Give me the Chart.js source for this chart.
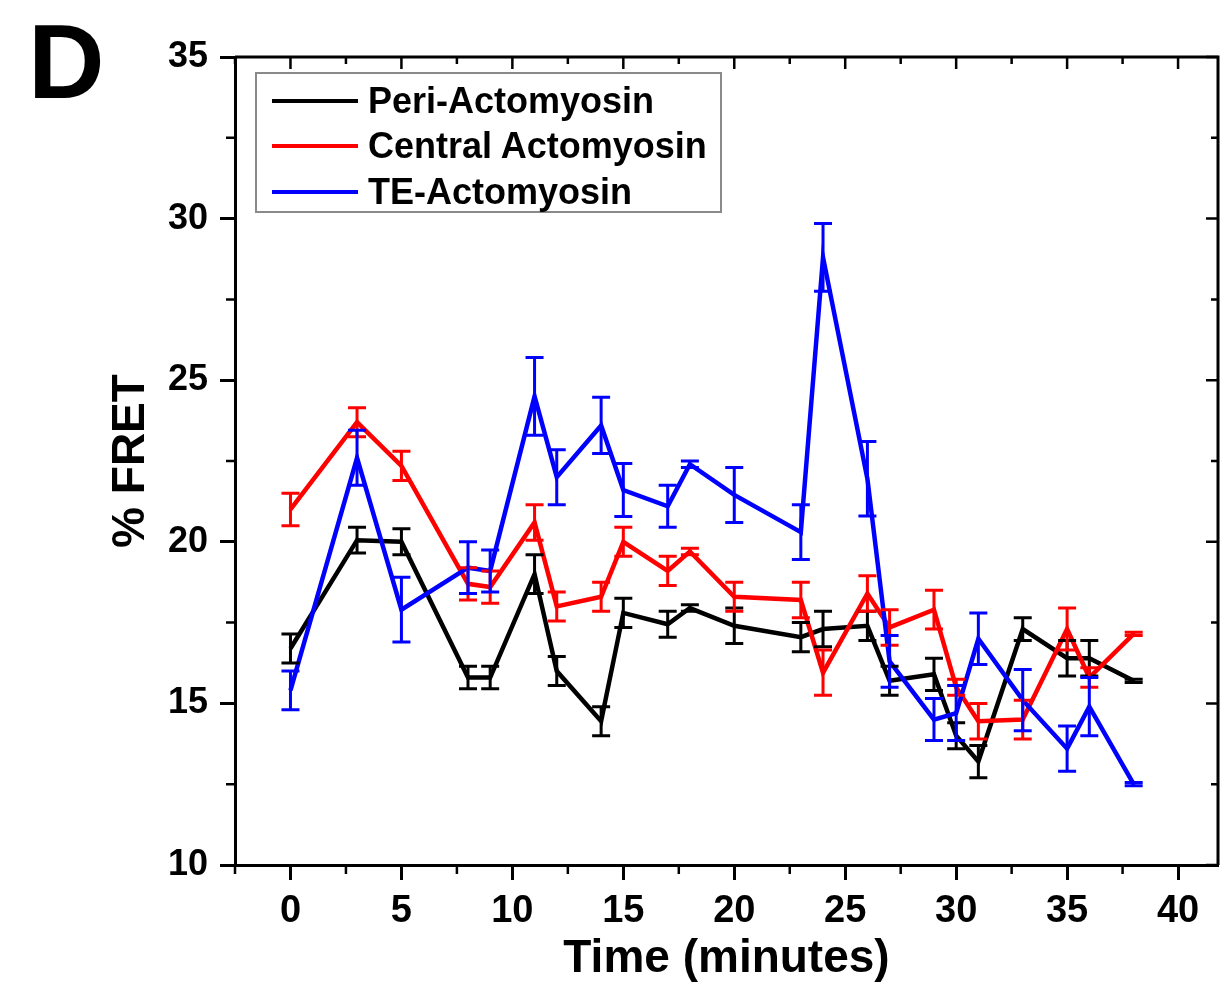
<!DOCTYPE html>
<html>
<head>
<meta charset="utf-8">
<script src="https://cdn.jsdelivr.net/npm/chart.js@4.4.1/dist/chart.umd.min.js"></script>
<style>
  body { margin: 0; background: #fff; }
  #wrap { position: relative; width: 1222px; height: 987px; }
  #panel { position: absolute; left: 28px; top: 8px; font: bold 106px 'Liberation Sans', Arial, sans-serif; line-height: 1; }
  #legend { position: absolute; left: 255px; top: 72px; width: 467px; height: 141px; box-sizing: border-box;
            border: 2px solid #8a8a8a; padding-top: 4px; font: bold 36px 'Liberation Sans', Arial, sans-serif; }
  .item { display: flex; align-items: center; height: 45.5px; }
  .swatch { width: 86px; height: 4px; margin-left: 15px; margin-right: 10px; }
</style>
</head>
<body>
<div id="wrap">
  <canvas id="chart" width="1222" height="987"></canvas>
  <div id="panel">D</div>
  <div id="legend"></div>
</div>
<script>
// time points (minutes)
const times = [0, 3, 5, 8, 9, 11, 12, 14, 15, 17, 18, 20, 23, 24, 26, 27, 29, 30, 31, 33, 35, 36, 38];

const periLabel = 'Peri-Actomyosin';
const peri    = [16.7, 20.05, 20.0, 15.8, 15.8, 19.0, 16.0, 14.45, 17.8, 17.45, 17.95, 17.4, 17.05, 17.3, 17.4, 15.7, 15.9, 14.0, 13.2, 17.3, 16.4, 16.4, 15.7];
const periErr = [0.45, 0.4, 0.4, 0.35, 0.35, 0.6, 0.45, 0.45, 0.45, 0.4, 0.1, 0.55, 0.45, 0.55, 0.45, 0.45, 0.5, 0.4, 0.5, 0.35, 0.55, 0.55, 0.05];

const centralLabel = 'Central Actomyosin';
const central    = [21.0, 23.7, 22.35, 18.7, 18.6, 20.6, 18.0, 18.3, 20.0, 19.1, 19.7, 18.3, 18.2, 15.95, 18.4, 17.35, 17.9, 15.5, 14.45, 14.5, 17.3, 15.8, 17.15];
const centralErr = [0.5, 0.45, 0.45, 0.5, 0.5, 0.55, 0.45, 0.45, 0.45, 0.45, 0.1, 0.45, 0.55, 0.7, 0.55, 0.55, 0.6, 0.25, 0.55, 0.6, 0.65, 0.3, 0.05];

const teLabel = 'TE-Actomyosin';
const te    = [15.4, 22.6, 17.9, 19.2, 19.1, 24.5, 22.0, 23.6, 21.6, 21.1, 22.4, 21.45, 20.3, 28.8, 21.95, 16.3, 14.5, 14.7, 17.0, 15.1, 13.6, 14.9, 12.5];
const teErr = [0.6, 0.85, 1.0, 0.8, 0.65, 1.2, 0.85, 0.87, 0.82, 0.65, 0.1, 0.85, 0.85, 1.05, 1.15, 0.8, 0.65, 0.85, 0.8, 0.95, 0.7, 0.9, 0.05];

const xTicks = [0, 5, 10, 15, 20, 25, 30, 35, 40];
const xMinor = [-2.5, 2.5, 7.5, 12.5, 17.5, 22.5, 27.5, 32.5, 37.5];
const yTicks = [10, 15, 20, 25, 30, 35];
const yMinor = [12.5, 17.5, 22.5, 27.5, 32.5];

const FONT = "'Liberation Sans', Arial, sans-serif";

const pts = ys => times.map((t, i) => ({ x: t, y: ys[i] }));

const datasets = [
  { label: periLabel, data: pts(peri), errors: periErr, borderColor: '#000000', order: 3 },
  { label: centralLabel, data: pts(central), errors: centralErr, borderColor: '#ff0000', order: 2 },
  { label: teLabel, data: pts(te), errors: teErr, borderColor: '#0000ff', order: 1 }
].map(d => Object.assign(d, { borderWidth: 4.5, pointRadius: 0, tension: 0, fill: false }));

// vertical error bars with caps
const errorBars = {
  id: 'errorBars',
  afterDatasetsDraw(chart) {
    const { ctx, scales: { x, y } } = chart;
    chart.data.datasets.slice().sort((a, b) => b.order - a.order).forEach(ds => {
      ctx.save();
      ctx.strokeStyle = ds.borderColor;
      ctx.lineWidth = 3;
      ds.data.forEach((p, j) => {
        const px = x.getPixelForValue(p.x);
        const top = y.getPixelForValue(p.y + ds.errors[j]);
        const bot = y.getPixelForValue(p.y - ds.errors[j]);
        ctx.beginPath();
        ctx.moveTo(px, top); ctx.lineTo(px, bot);
        ctx.moveTo(px - 9, top); ctx.lineTo(px + 9, top);
        ctx.moveTo(px - 9, bot); ctx.lineTo(px + 9, bot);
        ctx.stroke();
      });
      ctx.restore();
    });
  }
};

// box frame, minor ticks, mirrored inward ticks
const frame = {
  id: 'frame',
  afterDraw(chart) {
    const { ctx, chartArea: a, scales: { x, y } } = chart;
    ctx.save();
    ctx.strokeStyle = '#000';
    ctx.lineWidth = 3;
    ctx.beginPath();
    ctx.moveTo(a.left, a.top); ctx.lineTo(a.right, a.top); ctx.lineTo(a.right, a.bottom);
    ctx.stroke();
    ctx.lineWidth = 2.5;
    ctx.beginPath();
    xMinor.forEach(v => {
      const px = x.getPixelForValue(v);
      ctx.moveTo(px, a.bottom); ctx.lineTo(px, a.bottom + 9);
      ctx.moveTo(px, a.top); ctx.lineTo(px, a.top + 7);
    });
    xTicks.forEach(v => {
      const px = x.getPixelForValue(v);
      ctx.moveTo(px, a.top); ctx.lineTo(px, a.top + 12);
    });
    yMinor.forEach(v => {
      const py = y.getPixelForValue(v);
      ctx.moveTo(a.left, py); ctx.lineTo(a.left - 9, py);
      ctx.moveTo(a.right, py); ctx.lineTo(a.right - 7, py);
    });
    yTicks.forEach(v => {
      const py = y.getPixelForValue(v);
      ctx.moveTo(a.right, py); ctx.lineTo(a.right - 12, py);
    });
    ctx.stroke();
    ctx.restore();
  }
};

new Chart(document.getElementById('chart').getContext('2d'), {
  type: 'line',
  data: { datasets },
  options: {
    responsive: false,
    animation: false,
    layout: { padding: { top: 57, right: 4, left: 0, bottom: 0 } },
    plugins: { legend: { display: false }, tooltip: { enabled: false } },
    scales: {
      x: {
        type: 'linear', min: -2.5, max: 41.8,
        afterBuildTicks: s => { s.ticks = xTicks.map(value => ({ value })); },
        afterFit: s => { s.height = 122; },
        grid: { drawOnChartArea: false, drawTicks: true, tickLength: 15, tickWidth: 3, color: '#000' },
        border: { display: true, width: 3, color: '#000' },
        ticks: { color: '#000', padding: 9, font: { family: FONT, size: 38, weight: 'bold' } },
        title: { display: true, text: 'Time (minutes)', color: '#000', padding: { top: 0, bottom: 0 },
                 font: { family: FONT, size: 46, weight: 'bold' } }
      },
      y: {
        min: 10, max: 35,
        afterBuildTicks: s => { s.ticks = yTicks.map(value => ({ value })); },
        afterFit: s => { s.width = 235; },
        grid: { drawOnChartArea: false, drawTicks: true, tickLength: 15, tickWidth: 3, color: '#000' },
        border: { display: true, width: 3, color: '#000' },
        ticks: { color: '#000', padding: 12, font: { family: FONT, size: 36, weight: 'bold' } },
        title: { display: true, text: '% FRET', color: '#000', padding: { top: 104, bottom: 0 },
                 font: { family: FONT, size: 46, weight: 'bold' } }
      }
    }
  },
  plugins: [errorBars, frame]
});

// legend box inside the plot
const legend = document.getElementById('legend');
datasets.forEach(d => {
  const row = document.createElement('div');
  row.className = 'item';
  row.innerHTML = `<span class="swatch" style="background:${d.borderColor}"></span><span>${d.label}</span>`;
  legend.appendChild(row);
});
</script>
</body>
</html>
